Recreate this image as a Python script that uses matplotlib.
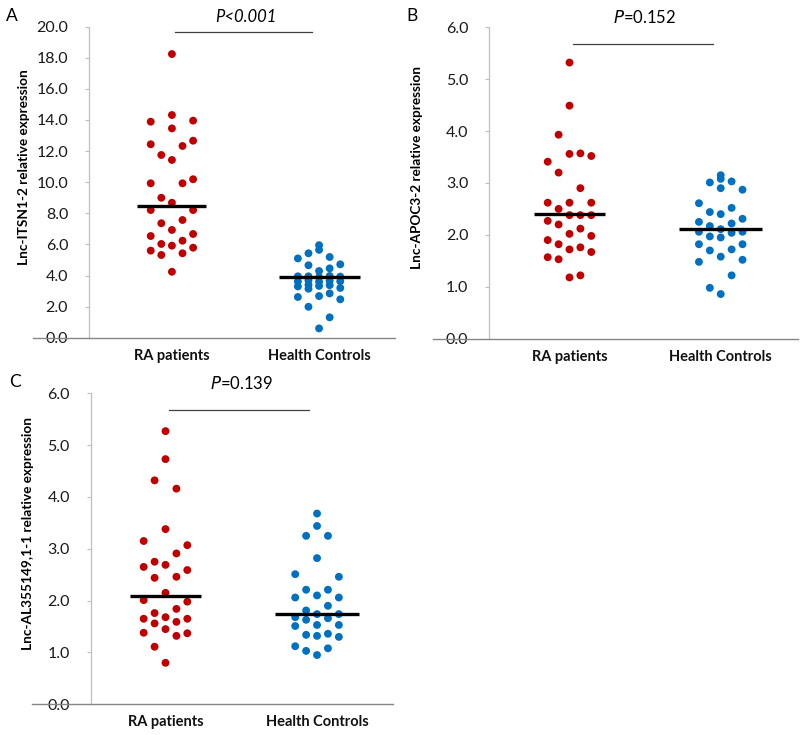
import matplotlib
matplotlib.use("Agg")
import matplotlib.pyplot as plt
import numpy as np

plt.rcParams['font.family'] = ['Lato', 'DejaVu Sans']

groups = ["RA patients", "Health Controls"]
RED, BLUE = "#c00000", "#0070c0"

# ---- panel A: Lnc-ITSN1-2 ----
a_ra_vals = [18.24, 14.32, 13.89, 13.96, 13.46, 12.44, 12.33, 12.67, 11.75, 11.43,
             9.93, 9.93, 10.19, 9.00, 8.68, 8.21, 8.21, 7.36, 7.57, 6.93,
             6.54, 6.67, 6.03, 5.92, 6.24, 5.60, 5.32, 5.43, 5.79, 4.24]
a_ra_cols = [0, 0, -2, 2, 0, -2, 1, 2, -1, 0,
             -2, 1, 2, -1, 0, -2, 2, -1, 1, 0,
             -2, 2, -1, 0, 1, -2, -1, 1, 2, 0]
a_hc_vals = [5.10, 3.95, 3.62, 3.30, 2.62,
             5.43, 4.66, 3.95, 3.68, 3.40, 3.15, 1.99,
             5.95, 5.65, 4.29, 3.90, 3.60, 3.33, 2.68, 0.60,
             5.19, 4.46, 3.97, 3.65, 3.38, 2.85, 1.31,
             4.72, 3.93, 3.63, 3.20, 2.47]
a_hc_cols = [-2]*5 + [-1]*7 + [0]*8 + [1]*7 + [2]*5
a_medians = [8.47, 3.93]

# ---- panel B: Lnc-APOC3-2 ----
b_ra_vals = [5.32, 4.49, 3.93, 3.56, 3.57, 3.52, 3.41, 3.20, 2.90, 2.62,
             2.62, 2.62, 2.50, 2.38, 2.38, 2.38, 2.27, 2.20, 2.12, 2.02,
             1.98, 1.90, 1.82, 1.76, 1.72, 1.67, 1.57, 1.53, 1.18, 1.22]
b_ra_cols = [0, 0, -1, 0, 1, 2, -2, -1, 1, -2,
             0, 2, -1, 0, 1, 2, -2, -1, 1, 0,
             2, -2, -1, 1, 0, 2, -2, -1, 0, 1]
b_hc_vals = [2.61, 2.25, 2.06, 1.82, 1.48,
             3.01, 2.44, 2.17, 1.97, 1.70, 0.98,
             3.15, 3.08, 2.90, 2.40, 2.11, 1.95, 1.58, 0.86,
             3.03, 2.52, 2.22, 2.04, 1.72, 1.22,
             2.87, 2.31, 2.06, 1.82, 1.52]
b_hc_cols = [-2]*5 + [-1]*6 + [0]*8 + [1]*6 + [2]*5
b_medians = [2.41, 2.11]

# ---- panel C: Lnc-AL355149,1-1 ----
c_ra_vals = [5.27, 4.73, 4.32, 4.16, 3.38, 3.15, 3.07, 2.91, 2.75, 2.69,
             2.65, 2.59, 2.44, 2.46, 2.15, 2.01, 1.98, 1.84, 1.76, 1.65,
             1.68, 1.65, 1.56, 1.59, 1.45, 1.38, 1.32, 1.37, 1.11, 0.80]
c_ra_cols = [0, 0, -1, 1, 0, -2, 2, 1, -1, 0,
             -2, 2, -1, 1, 0, -2, 2, 1, -1, -2,
             0, 2, -1, 1, 0, -2, 1, 2, -1, 0]
c_hc_vals = [2.51, 2.06, 1.68, 1.51, 1.12,
             3.25, 2.21, 1.81, 1.63, 1.34, 1.03,
             3.68, 3.44, 2.82, 2.10, 1.74, 1.53, 1.32, 0.95,
             3.25, 2.21, 1.90, 1.66, 1.36, 1.08,
             2.46, 2.06, 1.74, 1.53, 1.30]
c_hc_cols = [-2]*5 + [-1]*6 + [0]*8 + [1]*6 + [2]*5
c_medians = [2.08, 1.74]

fig = plt.figure(figsize=(8, 7.35), dpi=100, facecolor="white")


def panel(rect, xlim, ymax, ystep, ra, hc, meds, ylabel, ptxt, pit, letter,
          ylab_x, axis_left, bracket_y):
    ax = fig.add_axes(rect)
    step = 0.072
    for (vals, cols), x0, c in zip((ra, hc), (1, 2), (RED, BLUE)):
        ax.scatter(x0 + np.array(cols) * step, vals, s=32, color=c,
                   edgecolors="none", zorder=3)
    for x0, m, hw in zip((1, 2), meds, (0.235, 0.275)):
        ax.plot([x0 - hw, x0 + hw], [m, m], color="black", lw=2.4, zorder=4,
                solid_capstyle="butt")
    ax.set_xlim(*xlim)
    ax.set_ylim(0, ymax)
    ticks = np.arange(0, ymax + 1e-9, ystep)
    ax.set_yticks(ticks)
    ax.set_yticklabels([f"{v:.1f}" for v in ticks])
    ax.set_xticks([1, 2])
    ax.set_xticklabels(groups, fontweight="bold", fontsize=10.5)
    for s in ("top", "right", "bottom"):
        ax.spines[s].set_visible(False)
    ax.spines["left"].set_color("#bfbfbf")
    ax.spines["left"].set_linewidth(0.9)
    ax.plot([axis_left, 1], [0, 0], transform=ax.get_yaxis_transform(),
            color="#868686", lw=1.0, clip_on=False, zorder=5)
    ax.tick_params(axis="y", direction="out", length=3, color="#bfbfbf",
                   pad=12, labelsize=11.5, labelcolor="#1a1a1a")
    ax.tick_params(axis="x", length=0, pad=8, labelcolor="#111111")
    ax.set_ylabel(ylabel, fontweight="bold", fontsize=9.8)
    ax.yaxis.set_label_coords(ylab_x, 0.55)
    # significance bracket
    ax.plot([1.02, 1.95], [bracket_y, bracket_y], color="#404040", lw=0.9,
            clip_on=False)
    ax.text(1.5, ymax * 1.03, ptxt, ha="center", va="center", fontsize=12,
            style="italic" if pit else "normal", clip_on=False)
    ax.text(-0.27, 1.035, letter, transform=ax.transAxes, fontsize=12.5,
            ha="left", va="center")
    return ax


panel([0.11125, 0.5405, 0.3825, 0.4232], (0.4366, 2.516), 20, 2,
      (a_ra_vals, a_ra_cols), (a_hc_vals, a_hc_cols), a_medians,
      "Lnc-ITSN1-2 relative expression", "P<0.001", True, "A",
      -0.193, -0.183, 19.64)
panel([0.6116, 0.5392, 0.3859, 0.4237], (0.4696, 2.511), 6, 1,
      (b_ra_vals, b_ra_cols), (b_hc_vals, b_hc_cols), b_medians,
      "Lnc-APOC3-2 relative expression", r"$\it{P}$=0.152", False, "B",
      -0.215, -0.182, 5.68)
panel([0.1134, 0.0418, 0.3776, 0.4231], (0.5065, 2.50), 6, 1,
      (c_ra_vals, c_ra_cols), (c_hc_vals, c_hc_cols), c_medians,
      "Lnc-AL355149,1-1 relative expression", r"$\it{P}$=0.139", False, "C",
      -0.188, -0.195, 5.68)

fig.savefig("out.png", dpi=100, facecolor="white")
